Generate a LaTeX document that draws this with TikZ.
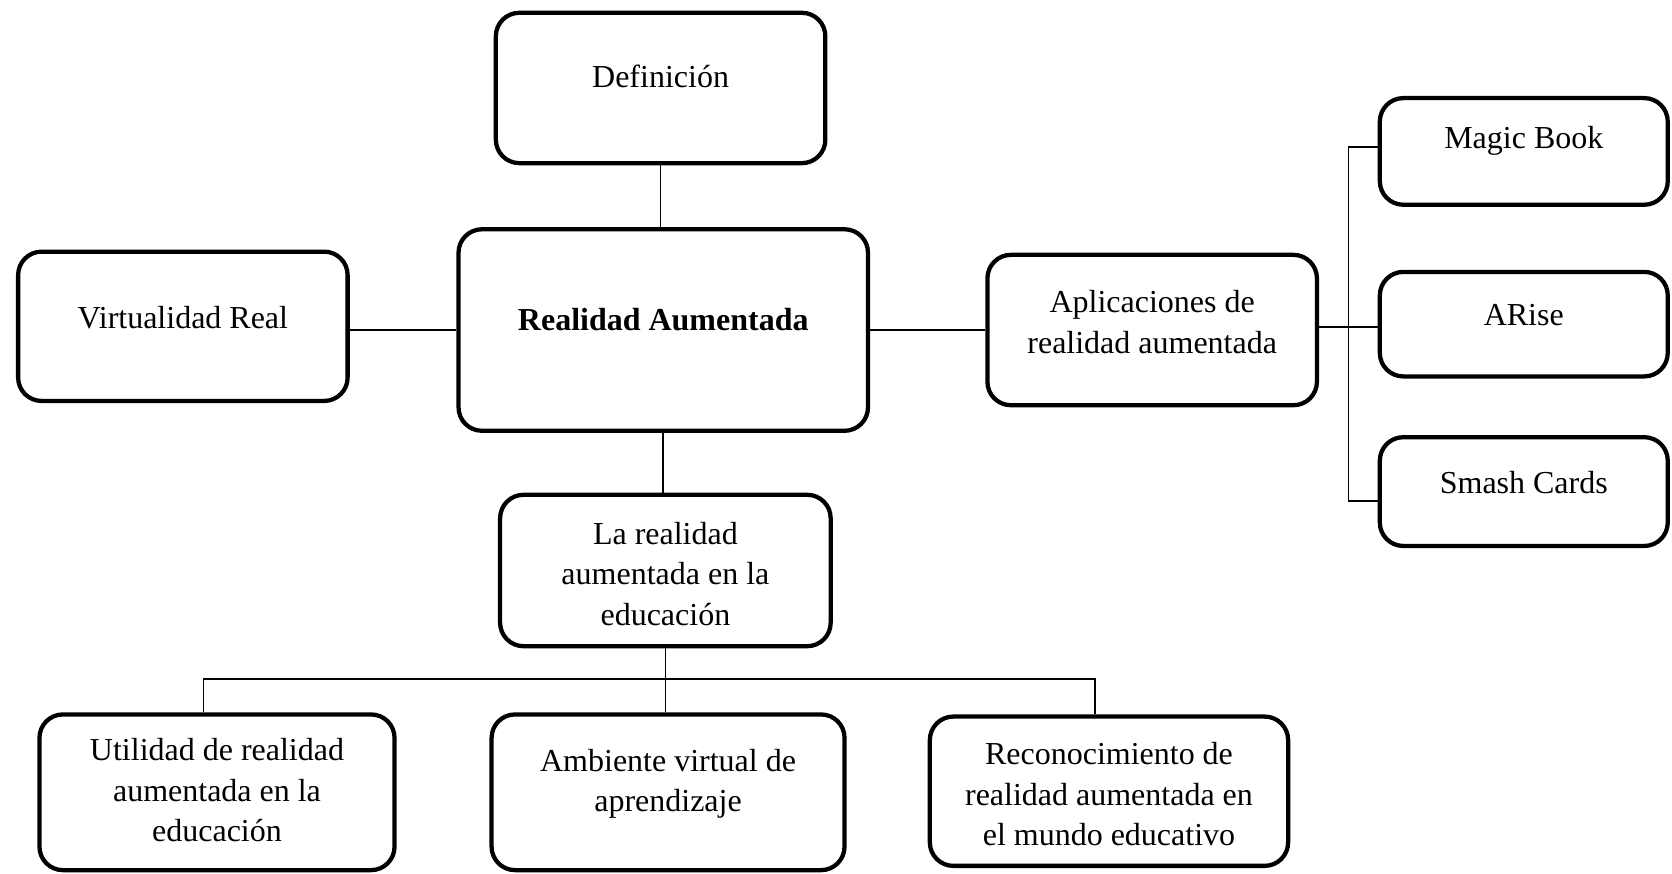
\documentclass[tikz,border=0pt]{standalone}
\usepackage{fontspec}
\setmainfont{Liberation Serif}
\usetikzlibrary{calc}
\begin{document}
\begin{tikzpicture}[x=0.5pt,y=-0.5pt,
  box/.style={draw, line width=2pt, rounded corners=11pt, inner sep=0pt},
  lbl/.style={font=\fontsize{15}{19}\selectfont, align=center, inner sep=0pt},
  link/.style={line width=0.75pt}]
\useasboundingbox (0,0) rectangle (1568,819);

% boxes
\node[box, minimum width=154.5pt, minimum height=70.5pt] (def) at (619.5,82.5) {};
\node[box, minimum width=192pt,   minimum height=94.5pt] (ra)  at (622,309.5) {};
\node[box, minimum width=154.5pt, minimum height=70pt]   (vr)  at (171.5,306) {};
\node[box, minimum width=154.5pt, minimum height=70.5pt] (apl) at (1080.5,309.5) {};
\node[box, minimum width=135pt,   minimum height=50pt]   (mb)  at (1429,142) {};
\node[box, minimum width=135pt,   minimum height=49pt]   (ar)  at (1429,304) {};
\node[box, minimum width=135pt,   minimum height=51pt]   (sc)  at (1429,461) {};
\node[box, minimum width=155pt,   minimum height=71pt]   (lr)  at (624,535) {};
\node[box, minimum width=166.5pt, minimum height=73pt]   (ut)  at (203.5,743) {};
\node[box, minimum width=165.5pt, minimum height=73pt]   (am)  at (626.5,743) {};
\node[box, minimum width=168pt,   minimum height=70pt]   (rc)  at (1040,742) {};

% labels
\node[lbl] (defT) at (619.5,72)  {Definición};
\node[lbl] (raT)  at (622,300)   {\textbf{Realidad Aumentada}};
\node[lbl] (vrT)  at (171.5,298) {Virtualidad Real};
\node[lbl] (aplT) at (1080.5,302) {Aplicaciones de\\realidad aumentada};
\node[lbl] (mbT)  at (1429,132)  {Magic Book};
\node[lbl] (arT)  at (1429,295)  {ARise};
\node[lbl] (scT)  at (1429,453)  {Smash Cards};
\node[lbl] (lrT)  at (624,538)   {La realidad\\aumentada en la\\educación};
\node[lbl] (utT)  at (203.5,741) {Utilidad de realidad\\aumentada en la\\educación};
\node[lbl] (amT)  at (626.5,735) {Ambiente virtual de\\aprendizaje};
\node[lbl] (rcT)  at (1040,745)  {Reconocimiento de\\realidad aumentada en\\el mundo educativo};

% connectors
\draw[link] (def.south) -- (def.south |- ra.north);
\draw[link] (vr.east |- ra.west) -- (ra.west);
\draw[link] (ra.east) -- (apl.west);
\draw[link] (ra.south) -- (ra.south |- lr.north);

\coordinate (rbus) at ($(apl.east)!0.5!(ar.west)$);
\draw[link] (apl.east |- rbus) -- (ar.west |- rbus);
\draw[link] ([yshift=2pt]mb.west) -| (rbus) |- ([yshift=-4.5pt]sc.west);

\coordinate (bj) at ($(lr.south)+(0,29)$);
\draw[link] (lr.south) -- (bj);
\draw[link] ([xshift=-6.25pt]ut.north) |- (bj) -| ([xshift=-6.5pt]rc.north);
\draw[link] (bj) -- (bj |- am.north);
\end{tikzpicture}
\end{document}
